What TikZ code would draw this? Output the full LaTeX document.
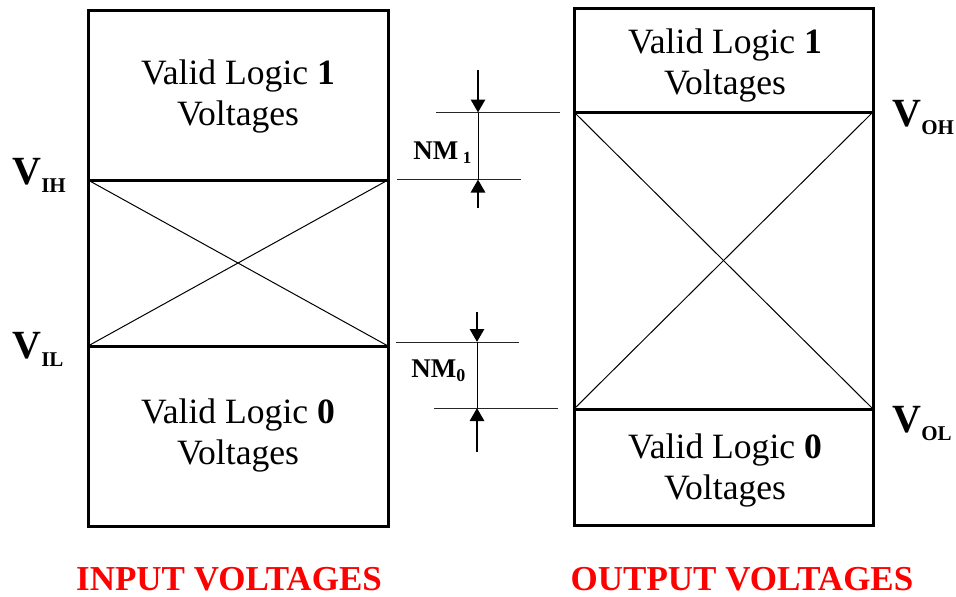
\documentclass[tikz,border=0pt]{standalone}
\usepackage{fontspec}
\setmainfont{Liberation Serif}
\usetikzlibrary{arrows.meta,positioning,calc}
\definecolor{TitleRed}{HTML}{FF0000}
\newcommand{\Vlev}[1]{\textbf{V\raisebox{-0.45ex}{\fontsize{10.5}{10.5}\selectfont #1}}}
\newcommand{\NMlev}[1]{\textbf{NM\raisebox{-0.35ex}{\fontsize{9}{9}\selectfont #1}}}

\begin{document}
\begin{tikzpicture}[x=0.5pt,y=-0.5pt,
frame/.style={line width=1.5pt},
level/.style={line width=1.5pt},
cross/.style={line width=0.5pt},
extline/.style={line width=0.5pt,draw=black!85},
dimarrow/.style={-{Triangle[length=6.5pt,width=7pt]},line width=1.4pt},
zone/.style={align=center,inner sep=0pt,font=\fontsize{17.8}{20.5}\selectfont},
vlabel/.style={anchor=base west,inner sep=0pt,font=\fontsize{20}{20}\selectfont},
nmlabel/.style={anchor=base west,inner sep=0pt,font=\fontsize{13.5}{13.5}\selectfont},
heading/.style={anchor=base,font=\fontsize{17.5}{17.5}\selectfont\bfseries,text=TitleRed}
]
\useasboundingbox (0,0) rectangle (956,596);

% input side
\coordinate (inTL) at (88,10);
\coordinate (inBR) at (388,526);
\coordinate (ihL) at (88,180);
\coordinate (ihR) at (388,180);
\coordinate (ilL) at (88,346);
\coordinate (ilR) at (388,346);
\draw[frame] (inTL) rectangle (inBR);
\draw[level] (ihL) -- (ihR);
\draw[level] (ilL) -- (ilR);
\draw[cross] (ihL) -- (ilR);
\draw[cross] (ilL) -- (ihR);

% output side
\coordinate (outTL) at (574,8);
\coordinate (outBR) at (873,525);
\coordinate (ohL) at (574,112);
\coordinate (ohR) at (873,112);
\coordinate (olL) at (574,409);
\coordinate (olR) at (873,409);
\draw[frame] (outTL) rectangle (outBR);
\draw[level] (ohL) -- (ohR);
\draw[level] (olL) -- (olR);
\draw[cross] (ohL) -- (olR);
\draw[cross] (olL) -- (ohR);

\node[zone] (in1) at (238,96) {Valid Logic \textbf{1}\\Voltages};
\node[zone] (in0) at (238,435) {Valid Logic \textbf{0}\\Voltages};
\node[zone] (out1) at (725,65) {Valid Logic \textbf{1}\\Voltages};
\node[zone] (out0) at (725,470) {Valid Logic \textbf{0}\\Voltages};

\node[vlabel] (vih) at (12,184) {\Vlev{IH}};
\node[vlabel] (vil) at (12,358) {\Vlev{IL}};
\node[vlabel] (voh) at (892,126) {\Vlev{OH}};
\node[vlabel] (vol) at (892,432) {\Vlev{OL}};

% noise margin 1
\coordinate (nm1a) at (436,112.5);
\coordinate (nm1b) at (560,112.5);
\coordinate (nm1c) at (397,179.5);
\coordinate (nm1d) at (521,179.5);
\coordinate (nm1top) at (478,70);
\coordinate (nm1hi) at (478,112.5);
\coordinate (nm1lo) at (478,179.5);
\coordinate (nm1bot) at (478,208);
\draw[extline] (nm1a) -- (nm1b);
\draw[extline] (nm1c) -- (nm1d);
\draw[cross] (nm1hi) -- (nm1lo);
\draw[dimarrow] (nm1top) -- (nm1hi);
\draw[dimarrow] (nm1bot) -- (nm1lo);
\node[nmlabel] (nm1) at (413,159) {\textbf{NM}\,\raisebox{-0.35ex}{\fontsize{8.5}{8.5}\selectfont\textbf{1}}};

% noise margin 0
\coordinate (nm0a) at (396,342);
\coordinate (nm0b) at (519,342);
\coordinate (nm0c) at (434,408);
\coordinate (nm0d) at (558,408);
\coordinate (nm0top) at (477,312);
\coordinate (nm0hi) at (477,342);
\coordinate (nm0lo) at (477,408);
\coordinate (nm0bot) at (477,452);
\draw[extline] (nm0a) -- (nm0b);
\draw[extline] (nm0c) -- (nm0d);
\draw[cross] (nm0hi) -- (nm0lo);
\draw[dimarrow] (nm0top) -- (nm0hi);
\draw[dimarrow] (nm0bot) -- (nm0lo);
\node[nmlabel] (nm0) at (411,377) {\NMlev{0}};

\node[heading] (intitle) at (229,590) {INPUT VOLTAGES};
\node[heading] (outtitle) at (742,590) {OUTPUT VOLTAGES};
\end{tikzpicture}
\end{document}
